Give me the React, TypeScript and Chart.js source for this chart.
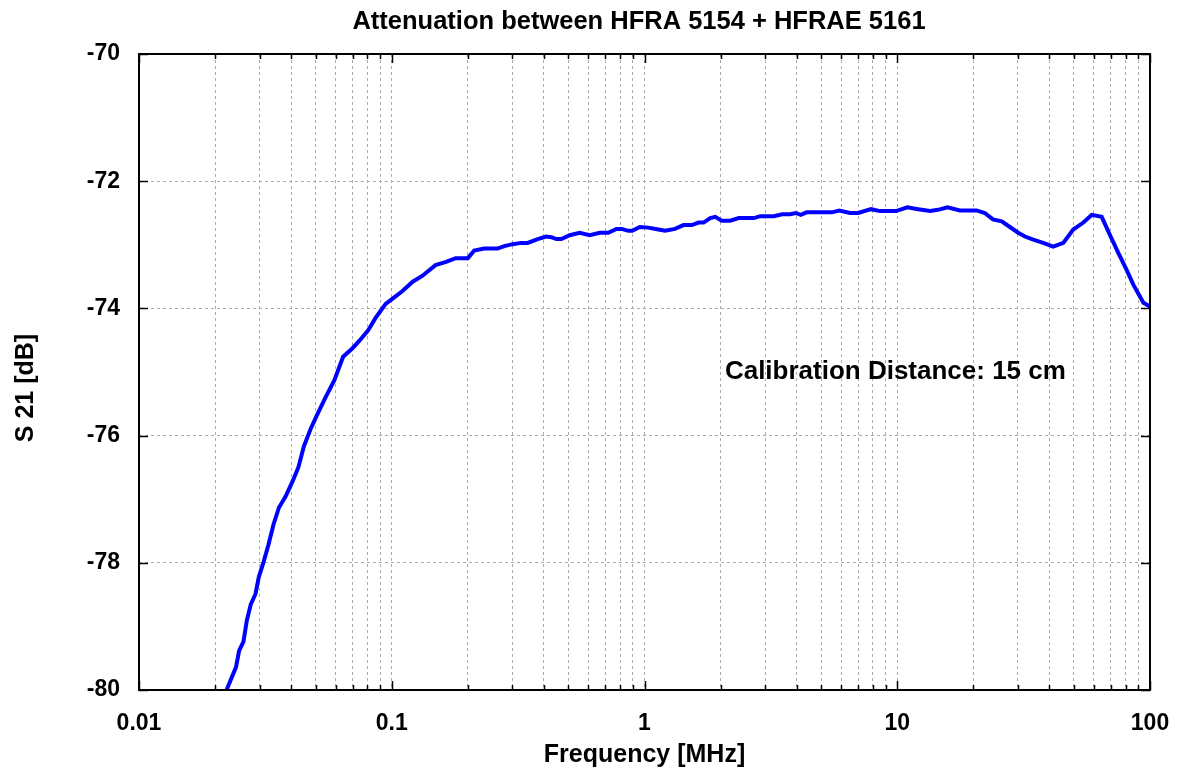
import React, { useEffect, useRef } from "react";
import { Chart, registerables } from "chart.js";

Chart.register(...registerables);

// ---- Data ----
const FREQ_MHZ = [
  0.0222, 0.0242, 0.0249, 0.0259, 0.0267, 0.0277, 0.0289, 0.0298, 0.0311, 0.0325,
  0.0341, 0.0358, 0.038, 0.0405, 0.0427, 0.0449, 0.0477, 0.0507, 0.0547, 0.0593,
  0.0642, 0.0698, 0.0748, 0.0805, 0.0863, 0.0946, 0.102, 0.11, 0.121, 0.132,
  0.149, 0.164, 0.179, 0.2, 0.212, 0.232, 0.262, 0.279, 0.301, 0.325,
  0.345, 0.378, 0.408, 0.428, 0.448, 0.469, 0.506, 0.554, 0.607, 0.665,
  0.718, 0.775, 0.811, 0.863, 0.894, 0.959, 1.035, 1.135, 1.206, 1.32,
  1.427, 1.54, 1.636, 1.713, 1.82, 1.905, 2.02, 2.18, 2.36, 2.71,
  2.87, 3.25, 3.51, 3.77, 3.97, 4.15, 4.38, 5.51, 5.9, 6.5,
  7.01, 7.87, 8.55, 9.89, 10.96, 12.1, 13.5, 14.5, 15.8, 17.7,
  20.6, 22.2, 23.9, 25.9, 27.9, 30.1, 32.0, 34.5, 37.8, 41.4,
  45.4, 49.7, 54.5, 58.8, 64.4, 69.5, 75.0, 80.9, 86.0, 94.2,
  100,
];
const S21_DB = [
  -80.0, -79.64, -79.38, -79.24, -78.91, -78.65, -78.49, -78.22, -77.99, -77.72,
  -77.39, -77.13, -76.96, -76.72, -76.5, -76.17, -75.9, -75.67, -75.4, -75.13,
  -74.76, -74.63, -74.5, -74.35, -74.15, -73.93, -73.83, -73.73, -73.58, -73.49,
  -73.32, -73.27, -73.21, -73.21, -73.09, -73.06, -73.06, -73.02, -72.99, -72.97,
  -72.97, -72.91, -72.87, -72.88, -72.91, -72.91, -72.85, -72.81, -72.85, -72.81,
  -72.81, -72.75, -72.75, -72.78, -72.78, -72.72, -72.73, -72.76, -72.78, -72.75,
  -72.69, -72.69, -72.65, -72.65, -72.58, -72.56, -72.62, -72.62, -72.58, -72.58,
  -72.55, -72.55, -72.52, -72.52, -72.5, -72.53, -72.49, -72.49, -72.46, -72.5,
  -72.5, -72.44, -72.47, -72.47, -72.41, -72.44, -72.47, -72.45, -72.41, -72.46,
  -72.46, -72.5, -72.6, -72.63, -72.72, -72.81, -72.87, -72.92, -72.97, -73.03,
  -72.97, -72.76, -72.65, -72.53, -72.56, -72.85, -73.13, -73.4, -73.63, -73.91,
  -73.97,
];

const X_DECADES = [0.01, 0.1, 1, 10, 100];
const X_DECADE_LABELS = ["0.01", "0.1", "1", "10", "100"];
const X_MULTIPLIERS = [1, 2, 3, 4, 5, 6, 7, 8, 9];
const Y_TICKS = [-80, -78, -76, -74, -72, -70];

const TITLE = "Attenuation between HFRA 5154 + HFRAE 5161";
const X_TITLE = "Frequency [MHz]";
const Y_TITLE = "S 21 [dB]";
const NOTE = "Calibration Distance: 15 cm";
const NOTE_X = 2.08;
const NOTE_Y = -75;

const FONT = "'Liberation Sans', Arial, Helvetica, sans-serif";

const X_TICK_VALUES: number[] = [];
X_DECADES.forEach((d, i) => {
  if (i === X_DECADES.length - 1) {
    X_TICK_VALUES.push(d);
  } else {
    X_MULTIPLIERS.forEach((m) => X_TICK_VALUES.push(parseFloat((d * m).toPrecision(6))));
  }
});

const isDecade = (v: number) => X_DECADES.some((d) => Math.abs(d - v) / d < 1e-6);

const framePlugin = {
  id: "frameAndText",
  afterDraw(chart: any) {
    const { ctx, chartArea, scales } = chart;
    const { left, right, top, bottom } = chartArea;
    const xs = scales.x;
    const ys = scales.y;
    ctx.save();
    ctx.strokeStyle = "#000";
    ctx.lineWidth = 1.5;
    ctx.beginPath();
    X_TICK_VALUES.forEach((v) => {
      const px = Math.round(xs.getPixelForValue(v)) + 0.5;
      const len = isDecade(v) ? 9 : 5;
      ctx.moveTo(px, bottom);
      ctx.lineTo(px, bottom - len);
      ctx.moveTo(px, top);
      ctx.lineTo(px, top + len);
    });
    Y_TICKS.forEach((v) => {
      const py = Math.round(ys.getPixelForValue(v)) + 0.5;
      ctx.moveTo(left, py);
      ctx.lineTo(left + 9, py);
      ctx.moveTo(right, py);
      ctx.lineTo(right - 9, py);
    });
    ctx.stroke();

    ctx.lineWidth = 2;
    ctx.strokeRect(left, top, right - left, bottom - top);

    ctx.fillStyle = "#000";
    ctx.font = `bold 25.5px ${FONT}`;
    ctx.textBaseline = "middle";
    ctx.textAlign = "center";
    ctx.fillText(TITLE, 639, 22);
    ctx.font = `bold 25px ${FONT}`;
    ctx.fillText(X_TITLE, (left + right) / 2, 755);

    ctx.save();
    ctx.translate(26, 388);
    ctx.rotate(-Math.PI / 2);
    ctx.fillText(Y_TITLE, 0, 0);
    ctx.restore();

    ctx.font = `bold 26px ${FONT}`;
    ctx.textAlign = "left";
    ctx.fillText(NOTE, xs.getPixelForValue(NOTE_X), ys.getPixelForValue(NOTE_Y));
    ctx.restore();
  },
};

export default function App() {
  const canvasRef = useRef<HTMLCanvasElement | null>(null);

  useEffect(() => {
    document.body.style.margin = "0";
    const canvas = canvasRef.current;
    if (!canvas) return;
    const chart = new Chart(canvas, {
      type: "line",
      data: {
        datasets: [
          {
            label: "S21",
            data: FREQ_MHZ.map((f, i) => ({ x: f, y: S21_DB[i] })),
            borderColor: "#0000ff",
            borderWidth: 4,
            pointRadius: 0,
            tension: 0,
            fill: false,
          },
        ],
      },
      options: {
        animation: false,
        responsive: false,
        maintainAspectRatio: false,
        layout: { padding: { top: 54, right: 34, left: 0, bottom: 0 } },
        plugins: {
          legend: { display: false },
          title: { display: false },
          tooltip: { enabled: false },
        },
        scales: {
          x: {
            type: "logarithmic",
            min: 0.01,
            max: 100,
            afterBuildTicks: (scale: any) => {
              scale.ticks = X_TICK_VALUES.map((v) => ({ value: v, major: false }));
            },
            afterFit: (scale: any) => {
              scale.height = 85;
              scale.paddingLeft = 0;
              scale.paddingRight = 0;
            },
            grid: {
              color: "#ababab",
              lineWidth: 1,
              drawTicks: false,
            },
            border: { display: false, dash: [3, 3] },
            ticks: {
              autoSkip: false,
              maxRotation: 0,
              minRotation: 0,
              padding: 20,
              color: "#000",
              font: { family: FONT, size: 23, weight: "bold" },
              callback: (value: any) => {
                const v = Number(value);
                const i = X_DECADES.findIndex((d) => Math.abs(d - v) / d < 1e-6);
                return i >= 0 ? X_DECADE_LABELS[i] : "";
              },
            },
          },
          y: {
            type: "linear",
            min: -80,
            max: -70,
            afterBuildTicks: (scale: any) => {
              scale.ticks = Y_TICKS.map((v) => ({ value: v }));
            },
            afterFit: (scale: any) => {
              scale.width = 139;
              scale.paddingTop = 0;
              scale.paddingBottom = 0;
            },
            grid: {
              color: "#ababab",
              lineWidth: 1,
              drawTicks: false,
            },
            border: { display: false, dash: [3, 3] },
            ticks: {
              padding: 19,
              color: "#000",
              font: { family: FONT, size: 23, weight: "bold" },
              callback: (value: any) => String(value),
            },
          },
        },
      },
      plugins: [framePlugin],
    } as any);
    return () => chart.destroy();
  }, []);

  return (
    <div style={{ position: "fixed", left: 0, top: 0, width: 1184, height: 775, background: "#fff" }}>
      <canvas ref={canvasRef} width={1184} height={775} style={{ display: "block" }} />
    </div>
  );
}
